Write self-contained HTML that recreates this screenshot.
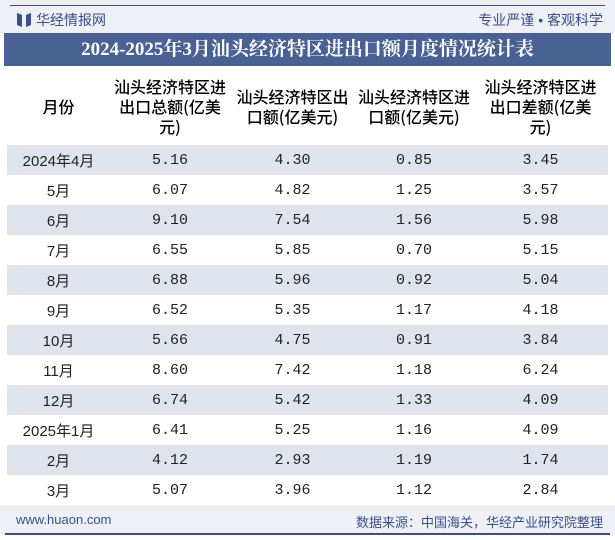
<!DOCTYPE html>
<html><head><meta charset="utf-8"><style>
body{margin:0;width:615px;height:540px;background:#fff;position:relative;overflow:hidden;font-family:"Liberation Sans","Noto Sans CJK SC",sans-serif;}
.abs{position:absolute;}
#topbar{left:0;top:0;width:615px;height:33px;background:#eef0f5;}
#topline{left:10px;top:5px;width:595px;height:1px;background:#3a4f86;}
#logo{left:17px;top:12px;width:14px;height:15px;}
#brand{left:36px;top:10px;font-size:14px;color:#3a4f86;}
#slogan{right:12px;top:10px;font-size:14px;color:#3a4f86;}
#title{left:4px;top:33px;width:607px;height:33px;background:#4a6193;color:#fff;font-size:19px;font-weight:bold;text-align:center;line-height:33px;font-family:"Liberation Serif","Noto Serif CJK SC",serif;}
table{position:absolute;left:7px;top:66px;width:601px;border-collapse:collapse;}
th{height:79px;font-size:16px;font-weight:500;color:#000;text-align:center;line-height:20px;padding:0;font-family:"Noto Sans CJK SC",sans-serif;}
td{height:30px;padding:0;text-align:center;font-size:15px;color:#222;font-family:"Liberation Mono","Noto Sans CJK SC",monospace;}
tr.s td{background:#dfe3ec;}
#footer{left:0;top:505px;width:615px;height:30px;background:#eef0f5;}
#site{left:16px;top:512px;font-size:13px;color:#3a4f86;}
#src{right:12px;top:512px;font-size:13px;color:#3a4f86;}
#botline{left:5px;top:533px;width:605px;height:2px;background:#3a4f86;}
</style></head><body>
<div class="abs" id="topbar"></div>
<div class="abs" id="topline"></div>
<svg class="abs" id="logo" viewBox="0 0 14 15"><path d="M0 1 L5 3 L5 15 L0 13Z M14 1 L9 3 L9 15 L14 13Z" fill="#3a4f86"/></svg>
<div class="abs" id="brand">华经情报网</div>
<div class="abs" id="slogan">专业严谨 • 客观科学</div>
<div class="abs" id="title">2024-2025年3月汕头经济特区进出口额月度情况统计表</div>
<table>
<colgroup><col style="width:103px"><col style="width:120px"><col style="width:125px"><col style="width:118px"><col style="width:135px"></colgroup>
<tr><th>月份</th><th>汕头经济特区进<br>出口总额(亿美<br>元)</th><th>汕头经济特区出<br>口额(亿美元)</th><th>汕头经济特区进<br>口额(亿美元)</th><th>汕头经济特区进<br>出口差额(亿美<br>元)</th></tr>
<tbody id="tb"></tbody>
</table>
<div class="abs" id="footer"></div>
<div class="abs" id="site">www.huaon.com</div>
<div class="abs" id="src">数据来源：中国海关，华经产业研究院整理</div>
<div class="abs" id="botline"></div>
<script>
const months=["2024年4月","5月","6月","7月","8月","9月","10月","11月","12月","2025年1月","2月","3月"];
const totals=["5.16","6.07","9.10","6.55","6.88","6.52","5.66","8.60","6.74","6.41","4.12","5.07"];
const exportsV=["4.30","4.82","7.54","5.85","5.96","5.35","4.75","7.42","5.42","5.25","2.93","3.96"];
const importsV=["0.85","1.25","1.56","0.70","0.92","1.17","0.91","1.18","1.33","1.16","1.19","1.12"];
const balances=["3.45","3.57","5.98","5.15","5.04","4.18","3.84","6.24","4.09","4.09","1.74","2.84"];
const tb=document.getElementById('tb');
months.forEach((m,i)=>{
  const tr=document.createElement('tr');
  
  
  if(i%2===0)tr.className='s';
  [m,totals[i],exportsV[i],importsV[i],balances[i]].forEach((v,j)=>{
    const td=document.createElement('td');
    
    
    td.textContent=v;
    if(j===0)td.style.fontFamily='"Liberation Sans","Noto Sans CJK SC",sans-serif';
    tr.appendChild(td);
  });
  tb.appendChild(tr);
});
</script>
</body></html>
